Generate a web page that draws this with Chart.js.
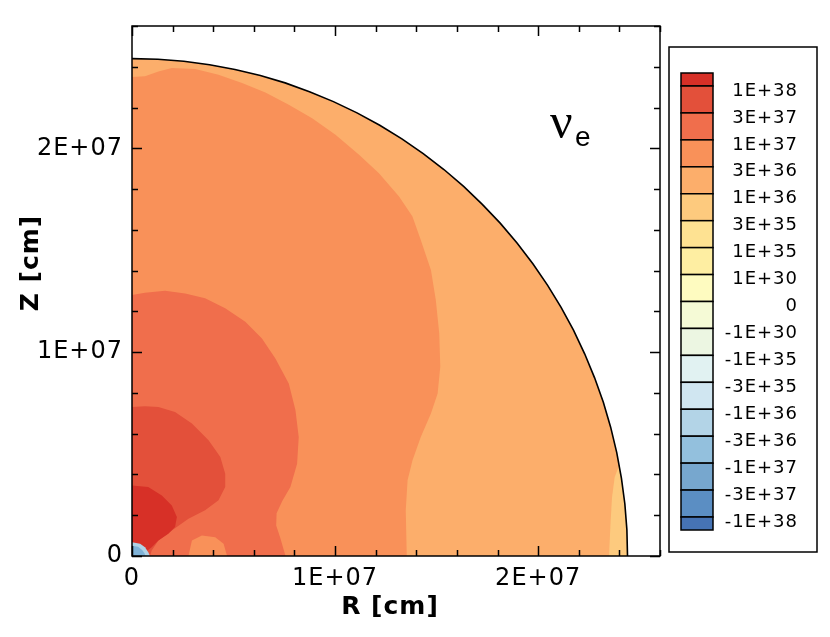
<!DOCTYPE html>
<html>
<head>
<meta charset="utf-8">
<title>Neutrino source term</title>
<script src="https://cdn.jsdelivr.net/npm/chart.js@4.4.1/dist/chart.umd.min.js"></script>
<style>
  html, body { margin: 0; padding: 0; background: #fff; }
  #wrap { position: relative; width: 830px; height: 637px; }
</style>
</head>
<body>
<div id="wrap"><canvas id="contourChart"></canvas></div>
<script>
// --- Data (R, Z pairs in units of 1E6 cm) ---
const UNIT = 1e6;

// outer edge of the computational domain
const rimPts = [[0,24.4],[1.28,24.37],[2.55,24.27],[3.82,24.1],[5.07,23.87],[6.32,23.57],[7.54,23.21],[8.74,22.78],
  [9.92,22.29],[11.08,21.74],[12.2,21.13],[13.29,20.46],[14.34,19.74],[15.36,18.96],[16.33,18.13],[17.25,17.25],
  [18.13,16.33],[18.96,15.36],[19.74,14.34],[20.46,13.29],[21.13,12.2],[21.74,11.08],[22.29,9.92],[22.78,8.74],
  [23.21,7.54],[23.57,6.32],[23.87,5.07],[24.1,3.82],[24.27,2.55],[24.37,1.28],[24.4,0]];

// contour levels, outermost first
const patch3e35 = [[23.99,4.45],[23.77,3.87],[23.64,2.89],[23.57,1.74],[23.49,0],[24.4,0],[24.37,1.28],[24.27,2.55],[24.1,3.82]];
const level3e36 = [[0,23.5],[0.64,23.53],[1.3,23.77],[1.96,23.94],[3.11,23.89],[4.26,23.61],[5.42,23.2],[6.57,22.74],
  [7.72,22.14],[8.87,21.48],[10.02,20.66],[11.18,19.68],[12.16,18.78],[13.15,17.63],[13.81,16.65],[14.22,15.5],
  [14.72,14.03],[14.96,12.56],[15.13,10.92],[15.18,9.28],[15.05,7.97],[14.72,6.99],[14.22,5.84],[13.81,4.69],
  [13.57,3.71],[13.48,2.24],[13.53,0],[0,0]];
const level1e37 = [[0,12.8],[0.64,12.91],[1.63,13.01],[2.62,12.88],[3.6,12.64],[4.59,12.15],[5.58,11.49],[6.4,10.67],
  [7.06,9.69],[7.72,8.46],[8.05,7.15],[8.21,5.84],[8.13,4.53],[7.8,3.38],[7.4,2.7],[7.12,2.1],[7.1,1.5],[7.3,0.9],[7.56,0],[0,0]];
const bump3e36 = [[2.78,0],[2.95,0.76],[3.44,1.01],[4.1,0.92],[4.51,0.6],[4.68,0]];
const level3e37 = [[0,7.31],[0.64,7.35],[1.3,7.31],[2.12,7.07],[2.95,6.5],[3.77,5.68],[4.35,4.86],[4.59,4.04],
  [4.59,3.38],[4.26,2.73],[3.6,2.24],[2.78,1.83],[1.96,1.25],[1.3,0.76],[0.97,0.27],[0.89,0],[0,0]];
const level1e38 = [[0,3.46],[0.8,3.38],[1.47,2.97],[1.96,2.48],[2.21,1.91],[2.12,1.42],[1.79,1.09],[1.3,0.76],
  [0.97,0.43],[0.64,0.19],[0.48,0],[0,0]];
const blueOuter = [[0,0.68],[0.4,0.6],[0.64,0.43],[0.8,0.19],[0.89,0],[0,0]];
const blueInner = [[0,0.5],[0.3,0.45],[0.5,0.3],[0.62,0.12],[0.66,0],[0,0]];

// colour scale
const legendLabels = ['1E+38','3E+37','1E+37','3E+36','1E+36','3E+35','1E+35','1E+30','0',
  '-1E+30','-1E+35','-3E+35','-1E+36','-3E+36','-1E+37','-3E+37','-1E+38'];
const legendColors = ['#d73027','#e3503a','#f06e4c','#f99159','#fcae6b','#fdca7e','#fee292','#feeea2','#fefbc0',
  '#f5fad6','#ecf6e2','#e1f2f2','#d0e6f1','#b3d4e7','#93c0dd','#77a7ce','#5b8ec3','#4673b4'];

// axes
const axisMax = 2.6e7;
const minorStep = 2e6;
const tickValues = [0, 1e7, 2e7];
const tickLabels = ['0', '1E+07', '2E+07'];

// --- helpers ---
function toXY(list) {
  return list.map(p => ({ x: p[0] * UNIT, y: p[1] * UNIT }));
}

function region(label, list, color) {
  return {
    label: label, data: toXY(list), showLine: true, fill: 'shape',
    backgroundColor: color, borderColor: 'transparent', borderWidth: 0,
    pointRadius: 0, pointHoverRadius: 0, tension: 0
  };
}

const SANS = '"DejaVu Sans", Verdana, sans-serif';

// frame with inward ticks on all four sides, colour bar and labels
const contourDecor = {
  id: 'contourDecor',
  beforeDraw(chart) {
    chart.ctx.letterSpacing = '1px';
  },
  afterDatasetsDraw(chart) {
    const { ctx, chartArea: a, scales: { x, y } } = chart;
    ctx.save();
    ctx.strokeStyle = '#000';
    ctx.lineWidth = 1.5;
    ctx.strokeRect(a.left, a.top, a.right - a.left, a.bottom - a.top);
    ctx.beginPath();
    for (let v = 0; v <= axisMax + 1; v += minorStep) {
      const len = v % 1e7 === 0 ? 10 : 6;
      const px = Math.round(x.getPixelForValue(v)) + 0.5;
      ctx.moveTo(px, a.bottom); ctx.lineTo(px, a.bottom - len);
      ctx.moveTo(px, a.top); ctx.lineTo(px, a.top + len);
      const py = Math.round(y.getPixelForValue(v)) + 0.5;
      ctx.moveTo(a.left, py); ctx.lineTo(a.left + len, py);
      ctx.moveTo(a.right, py); ctx.lineTo(a.right - len, py);
    }
    ctx.stroke();
    ctx.restore();
  },
  afterDraw(chart) {
    const ctx = chart.ctx;
    ctx.save();
    ctx.letterSpacing = '1px';
    ctx.fillStyle = '#000';

    // axis titles
    ctx.font = 'bold 25px ' + SANS;
    ctx.textAlign = 'center';
    ctx.textBaseline = 'middle';
    ctx.fillText('R [cm]', 390, 607);
    ctx.save();
    ctx.translate(31, 263);
    ctx.rotate(-Math.PI / 2);
    ctx.fillText('Z [cm]', 0, 0);
    ctx.restore();

    // species label
    ctx.letterSpacing = '0px';
    ctx.textAlign = 'left';
    ctx.textBaseline = 'alphabetic';
    ctx.font = '50px "Liberation Serif", "DejaVu Serif", serif';
    ctx.fillText('\u03bd', 550, 138);
    ctx.font = '28px "Liberation Sans", Arial, sans-serif';
    ctx.fillText('e', 575, 146);

    // legend box and colour bar
    ctx.strokeStyle = '#000';
    ctx.lineWidth = 1.5;
    ctx.strokeRect(669, 47, 148, 505);
    const barLeft = 681, barW = 32, barTop = 73, barBottom = 530, half = 13;
    const cell = (barBottom - barTop - 2 * half) / (legendColors.length - 2);
    let yTop = barTop;
    legendColors.forEach((c, i) => {
      const h = (i === 0 || i === legendColors.length - 1) ? half : cell;
      ctx.fillStyle = c;
      ctx.fillRect(barLeft, yTop, barW, h);
      ctx.strokeRect(barLeft, yTop, barW, h);
      yTop += h;
    });
    ctx.letterSpacing = '1px';
    ctx.fillStyle = '#000';
    ctx.font = '18px ' + SANS;
    ctx.textAlign = 'right';
    ctx.textBaseline = 'middle';
    legendLabels.forEach((t, i) => {
      ctx.fillText(t, 798, barTop + half + i * cell + 5);
    });
    ctx.restore();
  }
};

const tickFont = { family: SANS, size: 24 };

new Chart(document.getElementById('contourChart'), {
  type: 'scatter',
  data: {
    datasets: [
      { label: 'rim', data: toXY(rimPts), showLine: true, fill: false, borderColor: '#000', borderWidth: 1.6,
        pointRadius: 0, pointHoverRadius: 0, tension: 0 },
      region('-1E+37', blueInner, '#7fb2d7'),
      region('-3E+36', blueOuter, '#b0d3e7'),
      region('1E+38', level1e38, legendColors[0]),
      region('3E+37', level3e37, legendColors[1]),
      region('3E+36 bump', bump3e36, legendColors[3]),
      region('1E+37', level1e37, legendColors[2]),
      region('3E+36', level3e36, legendColors[3]),
      region('3E+35', patch3e35, legendColors[5]),
      region('1E+36', rimPts.concat([[0, 0]]), legendColors[4])
    ]
  },
  options: {
    responsive: true,
    maintainAspectRatio: false,
    animation: false,
    events: [],
    layout: { padding: { top: 26, right: 170, left: 0, bottom: 0 } },
    plugins: { legend: { display: false }, tooltip: { enabled: false } },
    scales: {
      x: {
        type: 'linear', min: 0, max: axisMax,
        afterFit: s => { s.height = 81; },
        afterBuildTicks: s => { s.ticks = tickValues.map(v => ({ value: v })); },
        ticks: {
          autoSkip: false, maxRotation: 0, padding: 8, color: '#000', font: tickFont,
          callback: v => tickLabels[tickValues.indexOf(v)] ?? ''
        },
        grid: { display: false, drawTicks: false },
        border: { display: false }
      },
      y: {
        type: 'linear', min: 0, max: axisMax,
        afterFit: s => { s.width = 132; },
        afterBuildTicks: s => { s.ticks = tickValues.map(v => ({ value: v })); },
        ticks: {
          autoSkip: false, padding: 9, color: '#000', font: tickFont,
          callback: v => tickLabels[tickValues.indexOf(v)] ?? ''
        },
        grid: { display: false, drawTicks: false },
        border: { display: false }
      }
    }
  },
  plugins: [contourDecor]
});
</script>
</body>
</html>
